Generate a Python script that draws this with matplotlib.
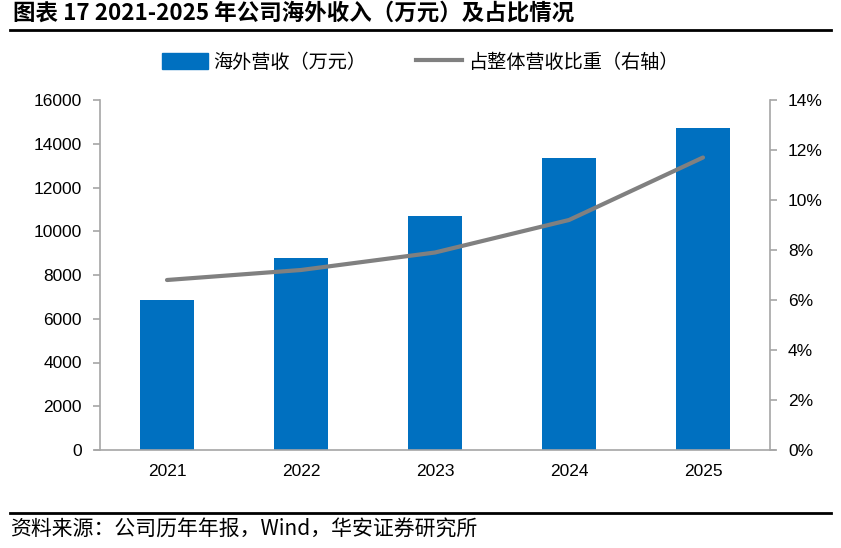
import matplotlib.pyplot as plt
from matplotlib.ticker import FuncFormatter, MultipleLocator
from matplotlib.lines import Line2D

plt.rcParams['font.family'] = ['Noto Sans CJK SC', 'DejaVu Sans']

years = ['2021', '2022', '2023', '2024', '2025']
overseas_rev = [6850, 8800, 10700, 13350, 14700]   # 万元
overseas_share = [6.8, 7.2, 7.9, 9.2, 11.7]        # %

title = '图表 17 2021-2025 年公司海外收入（万元）及占比情况'
source = '资料来源：公司历年年报，Wind，华安证券研究所'
bar_label = '海外营收（万元）'
line_label = '占整体营收比重（右轴）'

blue = '#0070C0'
grey = '#808080'
spine_c = '#A6A6A6'
num_font = ['Liberation Sans Narrow', 'Liberation Sans', 'DejaVu Sans']

fig = plt.figure(figsize=(8.41, 5.48), dpi=100)
ax = fig.add_axes([100 / 841, 1 - 450 / 548, 670 / 841, 350 / 548])
ax2 = ax.twinx()

x = range(len(years))
ax.bar(x, overseas_rev, width=0.4, color=blue, zorder=2)
ax2.plot(x, overseas_share, color=grey, lw=3, solid_capstyle='round', zorder=3)

ax.set_xlim(-0.5, len(years) - 0.5)
ax.set_ylim(0, 16000)
ax.yaxis.set_major_locator(MultipleLocator(2000))
ax2.set_ylim(0, 14)
ax2.yaxis.set_major_locator(MultipleLocator(2))
ax2.yaxis.set_major_formatter(FuncFormatter(lambda v, p: f'{v:.0f}%'))

ax.set_xticks(list(x))
ax.set_xticklabels(years)
for a in (ax, ax2):
    a.spines['top'].set_visible(False)
    for s in ('left', 'right', 'bottom'):
        a.spines[s].set_color(spine_c)
        a.spines[s].set_linewidth(1.2)
    a.tick_params(axis='y', length=5, color=spine_c, width=1.2, pad=8, labelsize=12.5)
    a.tick_params(axis='x', length=0, pad=10, labelsize=12.5)
    for lab in a.get_yticklabels() + a.get_xticklabels():
        lab.set_family(num_font)
ax.spines['right'].set_visible(False)
ax2.spines['left'].set_visible(False)
ax2.spines['bottom'].set_visible(False)
ax.spines['bottom'].set_bounds(-0.54, len(years) - 0.46)

handles = [plt.Rectangle((0, 0), 1, 1, color=blue),
           Line2D([0], [0], color=grey, lw=3)]
fig.legend(handles, [bar_label, line_label], loc='center', ncol=2,
           bbox_to_anchor=(420 / 841, 1 - 62 / 548), frameon=False,
           fontsize=13.8, handlelength=2.4, handleheight=0.85, columnspacing=2.6,
           handletextpad=0.3)

fig.text(13 / 841, 1 - 13 / 548, title, fontsize=16.2, fontweight='bold',
         va='center', ha='left')
fig.text(10 / 841, 1 - 530 / 548, source, fontsize=15, va='center', ha='left')
fig.add_artist(Line2D([10 / 841, 831 / 841], [1 - 30 / 548] * 2, color='black', lw=2))
fig.add_artist(Line2D([10 / 841, 831 / 841], [1 - 513 / 548] * 2, color='black', lw=2))

fig.savefig('out.png', dpi=100)
